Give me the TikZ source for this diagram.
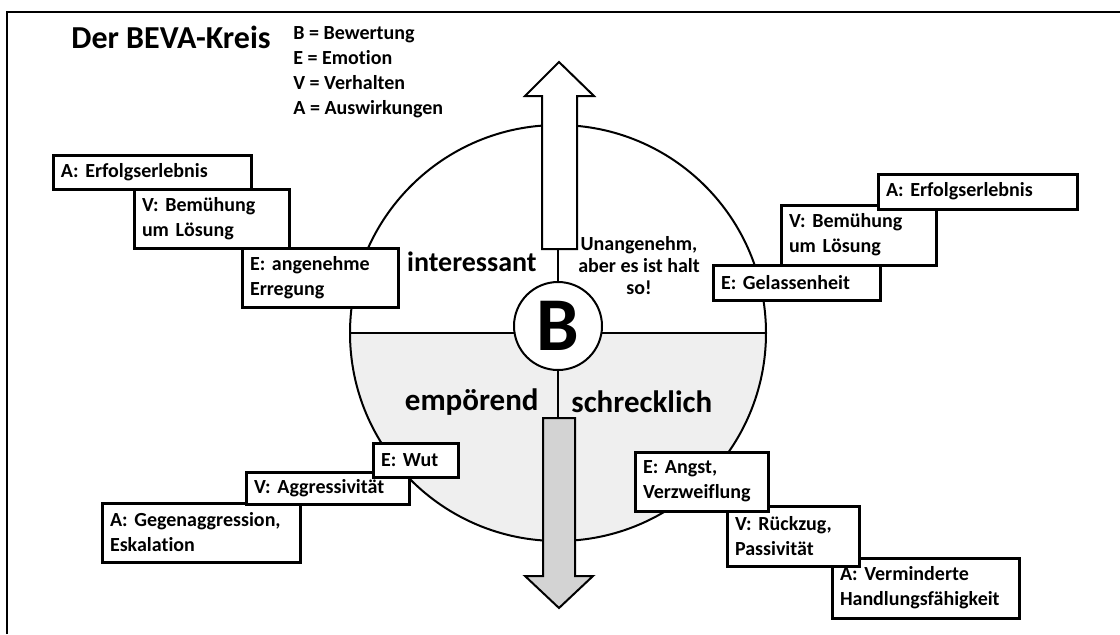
\documentclass[tikz,border=0pt]{standalone}
\usepackage{fontspec}
\setmainfont{Carlito}[Ligatures=NoCommon]
\usepackage{tikz}
\definecolor{halbgrau}{HTML}{EFEFEF}
\definecolor{pfeilgrau}{HTML}{D3D3D3}
\newcommand{\kastenfont}{\fontsize{10}{12.5}\selectfont\bfseries\frenchspacing}
\newcommand{\wortfont}{\fontsize{14}{16}\selectfont\bfseries}
\frenchspacing

\begin{document}
\begin{tikzpicture}[x=0.5pt, y=-0.5pt,
	kasten/.style={draw, fill=white, line width=1.5pt, align=left, inner xsep=4pt, inner ysep=0pt, font=\kastenfont},
	wort/.style={inner sep=0pt, font=\wortfont}]
	\useasboundingbox (0,0) rectangle (1120,634);
	\draw[line width=1pt] (7,634) -- (7,12) -- (1120,12);

	\coordinate (M) at (558,333);
	\begin{scope}
		\clip (0,333) rectangle (1120,634);
		\fill[halbgrau] (M) circle[radius=104pt];
	\end{scope}
	\draw[line width=1pt] (M) circle[radius=104pt];
	\draw[line width=1pt] (350,333) -- (766,333);

	\draw[line width=1pt, fill=white] (542,249) -- (542,96) -- (525,96) -- (559,62)
		-- (594,96) -- (577,96) -- (577,249) -- cycle;
	\draw[line width=1pt, fill=pfeilgrau] (543,418) -- (543,576) -- (525,576) -- (559,608)
		-- (593,576) -- (575,576) -- (575,418) -- cycle;
	\coordinate (obenfuss) at (558,249);
	\coordinate (untenkopf) at (558,418);

	\node[circle, draw, fill=white, line width=1pt, minimum size=44pt, inner sep=0pt,
		font=\fontsize{38}{38}\selectfont\bfseries] (B) at (558,326) {B};
	\draw[line width=1pt] (B) -- (obenfuss);
	\draw[line width=1pt] (B) -- (untenkopf);

	\node[anchor=base west, inner sep=0pt, font=\fontsize{16}{16}\selectfont\bfseries] (titel) at (71,48) {Der BEVA-Kreis};
	\foreach \z/\t in {0/{B = Bewertung}, 1/{E = Emotion}, 2/{V = Verhalten}, 3/{A = Auswirkungen}}
		\node[anchor=base west, inner sep=0pt, font=\kastenfont] (leg\z) at (293,39+25*\z) {\t};

	\node[wort, anchor=base east] (interessant) at (537,271) {interessant};
	\node[wort, anchor=base east, font=\fontsize{15.5}{16}\selectfont\bfseries] (empoerend) at (539,410) {empörend};
	\node[wort, anchor=base west, font=\fontsize{15.5}{16}\selectfont\bfseries] (schrecklich) at (571,412) {schrecklich};
	\node[align=center, inner sep=0pt, font=\fontsize{10}{11}\selectfont\bfseries] (halt) at (639,266)
		{Unangenehm,\\aber es ist halt\\so!};

	\node[kasten, text width=91pt, minimum height=17pt] (A1) at (152,172) {A: Erfolgserlebnis};
	\node[kasten, text width=69.5pt, minimum height=29.5pt] (V1) at (211.5,218.5) {V: Bemühung\\um Lösung};
	\node[kasten, text width=70pt, minimum height=29.5pt] (E1) at (320,277.5) {E: angenehme\\Erregung};

	\node[kasten, text width=69.5pt, minimum height=30pt] (V2) at (858.5,235) {V: Bemühung\\um Lösung};
	\node[kasten, text width=75.5pt, minimum height=17.5pt] (E2) at (796.5,282.5) {E: Gelassenheit};
	\node[kasten, text width=91.5pt, minimum height=17.5pt] (A2) at (977.5,191.5) {A: Erfolgserlebnis};

	\node[kasten, text width=91pt, minimum height=29.5pt] (A3) at (201,532.5) {A: Gegenaggression,\\Eskalation};
	\node[kasten, text width=73.5pt, minimum height=16pt] (V3) at (327.5,488) {V: Aggressivität};
	\node[kasten, text width=34.5pt, minimum height=17pt] (E3) at (415.5,460) {E: Wut};

	\node[kasten, text width=85.5pt, minimum height=30pt] (A4) at (925.5,588) {A: Verminderte\\Handlungsfähigkeit};
	\node[kasten, text width=58pt, minimum height=30pt] (V4) at (793,536) {V: Rückzug,\\Passivität};
	\node[kasten, text width=58.5pt, minimum height=29.5pt] (E4) at (701.5,481.5) {E: Angst,\\Verzweiflung};
\end{tikzpicture}
\end{document}
